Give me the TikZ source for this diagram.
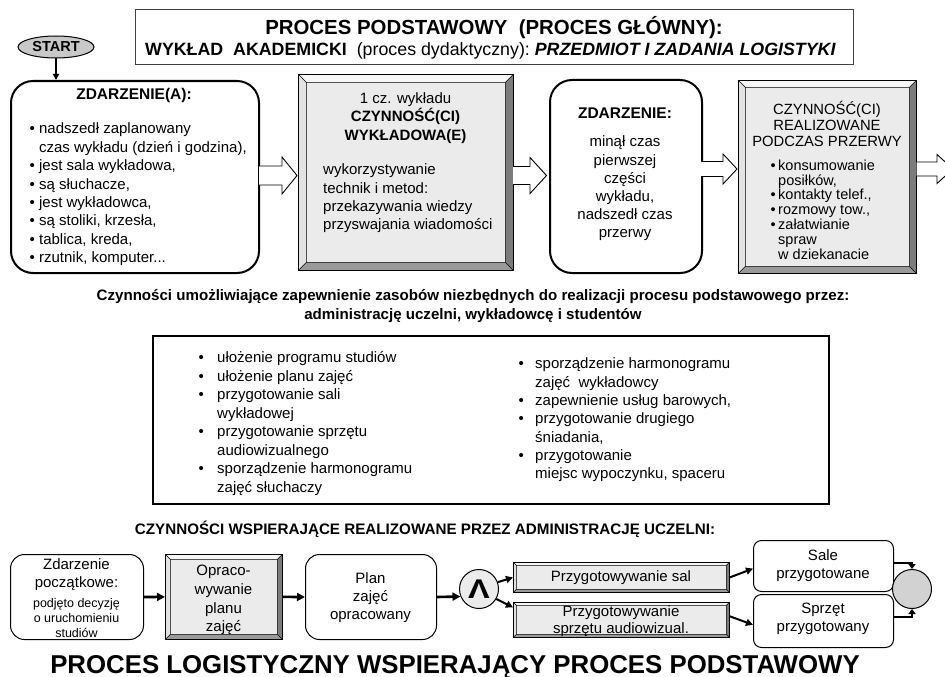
\documentclass[tikz,border=0pt]{standalone}
\usepackage{fontspec}
\setmainfont{Liberation Sans}
\usetikzlibrary{arrows.meta,calc,shapes.geometric}

\definecolor{face}{HTML}{EBEBEB}
\definecolor{bevlight}{HTML}{F7F7F7}
\definecolor{bevleft}{HTML}{E2E2E2}
\definecolor{bevdark}{HTML}{7C7C7C}
\definecolor{bevbottom}{HTML}{9A9A9A}
\definecolor{startgray}{HTML}{C8C8C8}
\definecolor{joingray}{HTML}{D2D2D2}

\newcommand{\fs}[2]{\fontsize{#1}{#2}\selectfont}

% raised (bevelled) frame drawn inside an activity box
\newcommand{\drawbevel}[1]{%
  \path (path picture bounding box.north west) coordinate (bvNW)
        (path picture bounding box.north east) coordinate (bvNE)
        (path picture bounding box.south west) coordinate (bvSW)
        (path picture bounding box.south east) coordinate (bvSE);
  \path ([xshift=#1pt,yshift=-#1pt]bvNW) coordinate (bvnw)
        ([xshift=-#1pt,yshift=-#1pt]bvNE) coordinate (bvne)
        ([xshift=#1pt,yshift=#1pt]bvSW) coordinate (bvsw)
        ([xshift=-#1pt,yshift=#1pt]bvSE) coordinate (bvse);
  \fill[bevlight] (bvNW) -- (bvNE) -- (bvne) -- (bvnw) -- cycle;
  \fill[bevleft] (bvNW) -- (bvnw) -- (bvsw) -- (bvSW) -- cycle;
  \fill[bevdark] (bvNE) -- (bvSE) -- (bvse) -- (bvne) -- cycle;
  \fill[bevbottom] (bvSW) -- (bvsw) -- (bvse) -- (bvSE) -- cycle;
  \draw[line width=0.6pt] (bvnw) rectangle (bvse)
     (bvNW) -- (bvnw) (bvNE) -- (bvne) (bvSW) -- (bvsw) (bvSE) -- (bvse);
}

% hollow block arrow: shaft start, head start, tip, centre line, half shaft, half head
\newcommand{\blockarr}[6]{%
  \draw[blockarrow] (#1,{#4-#5}) -- (#2,{#4-#5}) -- (#2,{#4-#6}) -- (#3,#4)
     -- (#2,{#4+#6}) -- (#2,{#4+#5}) -- (#1,{#4+#5});
}

\tikzset{
  txt/.style={inner sep=0pt, text=black},
  bevelbox/.style={draw=black, line width=0.8pt, fill=face, inner sep=0pt,
    anchor=north west, path picture={\drawbevel{#1}}},
  eventbox/.style={draw=black, line width=2pt, rounded corners=22pt, fill=white,
    inner sep=0pt, anchor=north west},
  eventsmall/.style={draw=black, line width=1pt, rounded corners=#1, fill=white,
    inner sep=0pt, anchor=north west},
  blockarrow/.style={draw=black, line width=0.9pt, fill=white},
  thinarr/.style={line width=1.6pt, -{Triangle[length=6pt,width=6pt]}},
  fatarr/.style={line width=2.6pt, -{Triangle[length=8pt,width=8pt]}},
  midarr/.style={line width=2pt, -{Triangle[length=7pt,width=7pt]}},
  joinarr/.style={line width=2pt, -{Triangle[length=5pt,width=7pt]}},
}

\begin{document}
\begin{tikzpicture}[x=1pt,y=-1pt]
\useasboundingbox (0,0) rectangle (945,677);
\fill[white] (0,0) rectangle (945,677);
\clip (0,0) rectangle (945,677);

% ---------- heading ----------
\node[draw=black!75, line width=1pt, minimum width=718pt, minimum height=55pt,
      inner sep=0pt, anchor=north west] (titlebox) at (135,9) {};
\node[txt, font=\fs{20.4}{24}\bfseries] (title1) at (494,27.5)
  {PROCES PODSTAWOWY\ \ (PROCES GŁÓWNY):};
\node[txt, font=\fs{17.8}{21}] (title2) at (490.5,50.5)
  {\textbf{WYKŁAD\ \ AKADEMICKI}\ \ (proces dydaktyczny):\ \textbf{\textit{PRZEDMIOT I ZADANIA LOGISTYKI}}};

% ---------- main process ----------
\node[ellipse, draw=black, line width=1pt, fill=startgray, minimum width=76pt,
      minimum height=22pt, inner sep=0pt, font=\fs{14.5}{17}\bfseries] (start) at (56,47) {START};

\node[eventbox, minimum width=248pt, minimum height=192pt] (zdA) at (10,80) {};
\draw[thinarr] (start.south) -- (start.south |- zdA.north);
\node[txt, font=\fs{15.5}{18}\bfseries] (zdAhead) at (134,95) {ZDARZENIE(A):};
\node[txt, anchor=west, align=left, font=\fs{15}{18.4}] (zdAlist) at (29.5,194.5)
  {• nadszedł zaplanowany\\\hphantom{• }czas wykładu (dzień i godzina),\\• jest sala wykładowa,\\• są słuchacze,\\• jest wykładowca,\\• są stoliki, krzesła,\\• tablica, kreda,\\• rzutnik, komputer...};

\node[bevelbox=8, minimum width=215pt, minimum height=196pt] (act1) at (298,74) {};
\node[txt, align=center, font=\fs{15}{18.5}] (act1head) at (405.5,118)
  {1 cz. wykładu\\\textbf{CZYNNOŚĆ(CI)}\\\textbf{WYKŁADOWA(E)}};
\node[txt, anchor=west, align=left, font=\fs{15}{18.3}] (act1body) at (323,198.5)
  {wykorzystywanie\\technik i metod:\\przekazywania wiedzy\\przyswajania wiadomości};

\node[eventbox, minimum width=152pt, minimum height=193pt] (zd2) at (549,79) {};
\node[txt, font=\fs{15.5}{18}\bfseries] (zd2head) at (625,113) {ZDARZENIE:};
\node[txt, align=center, font=\fs{15}{18.2}] (zd2body) at (625,188.5)
  {minął czas\\pierwszej\\części\\wykładu,\\nadszedł czas\\przerwy};

\node[bevelbox=7, minimum width=178pt, minimum height=193pt] (act2) at (738,80) {};
\node[txt, align=center, font=\fs{14.8}{16}] (act2head) at (827,124)
  {CZYNNOŚĆ(CI)\\REALIZOWANE\\PODCZAS PRZERWY};
\node[txt, anchor=west, align=left, font=\fs{14.5}{14.8}] (act2list) at (770.5,209.5)
  {•\,konsumowanie\\\hphantom{•\,}posiłków,\\•\,kontakty telef.,\\•\,rozmowy tow.,\\•\,załatwianie\\\hphantom{•\,}spraw\\\hphantom{•\,}w dziekanacie};

\blockarr{259}{282}{297}{175.5}{9.5}{18.5}
\blockarr{513}{530}{546.5}{175.5}{9}{18}
\blockarr{701}{723}{737}{169}{7.5}{15}
\blockarr{916.5}{937}{953}{169}{7}{14.5}

% ---------- resources ----------
\node[txt, align=center, font=\fs{15.1}{19}\bfseries] (rescap) at (473,306)
  {Czynności umożliwiające zapewnienie zasobów niezbędnych do realizacji procesu podstawowego przez:\\administrację uczelni, wykładowcę i studentów};

\node[draw=black, line width=2pt, minimum width=676pt, minimum height=168pt,
      inner sep=0pt, anchor=north west] (resbox) at (152,335) {};
\node[txt, anchor=west, align=left, font=\fs{15}{18.57}] (resleft) at (198.5,423.5)
  {\makebox[18.5pt][l]{•}ułożenie programu studiów\\\makebox[18.5pt][l]{•}ułożenie planu zajęć\\\makebox[18.5pt][l]{•}przygotowanie sali\\\hspace*{18.5pt}wykładowej\\\makebox[18.5pt][l]{•}przygotowanie sprzętu\\\hspace*{18.5pt}audiowizualnego\\\makebox[18.5pt][l]{•}sporządzenie harmonogramu\\\hspace*{18.5pt}zajęć słuchaczy};
\node[txt, anchor=west, align=left, font=\fs{15}{18.33}] (resright) at (518.5,420)
  {\makebox[16.5pt][l]{•}sporządzenie harmonogramu\\\hspace*{16.5pt}zajęć\ \ wykładowcy\\\makebox[16.5pt][l]{•}zapewnienie usług barowych,\\\makebox[16.5pt][l]{•}przygotowanie drugiego\\\hspace*{16.5pt}śniadania,\\\makebox[16.5pt][l]{•}przygotowanie\\\hspace*{16.5pt}miejsc wypoczynku, spaceru};

% ---------- supporting logistics process ----------
\node[txt, font=\fs{15.2}{18}\bfseries] (supcap) at (425,529)
  {CZYNNOŚCI WSPIERAJĄCE REALIZOWANE PRZEZ ADMINISTRACJĘ UCZELNI:};

\node[eventsmall=14pt, minimum width=133pt, minimum height=85pt] (zdP) at (10,554) {};
\node[txt, align=center, font=\fs{15}{18}] (zdPa) at (76.5,575) {Zdarzenie\\początkowe:};
\node[txt, align=center, font=\fs{12.5}{15}] (zdPb) at (76.5,618) {podjęto decyzję\\o uruchomieniu\\studiów};

\node[bevelbox=5, minimum width=117pt, minimum height=85pt] (opr) at (165,554) {};
\node[txt, align=center, font=\fs{15}{18.7}] (oprt) at (223.5,600) {Opraco-\\wywanie\\planu\\zajęć};

\node[eventsmall=14pt, minimum width=131pt, minimum height=85pt] (plan) at (305,554) {};
\node[txt, align=center, font=\fs{15}{18}] (plant) at (370.5,598) {Plan\\zajęć\\opracowany};

\node[circle, draw=black, line width=1pt, fill=face, minimum size=39pt, inner sep=0pt,
      font=\fs{27}{27}\bfseries] (andg) at (479,589) {\scalebox{1.2}[1]{Λ}};

\node[bevelbox=3, minimum width=216pt, minimum height=30pt] (psal) at (513,562) {};
\node[txt, font=\fs{15}{18}] (psalt) at (621,578) {Przygotowywanie sal};
\node[bevelbox=3, minimum width=216pt, minimum height=35pt] (psprz) at (513,602) {};
\node[txt, align=center, font=\fs{15}{17}] (psprzt) at (621,621) {Przygotowywanie\\sprzętu audiowizual.};

\node[eventsmall=8pt, minimum width=140pt, minimum height=51pt] (sale) at (753,540) {};
\node[txt, align=center, font=\fs{15}{18}] (salet) at (823,566) {Sale\\przygotowane};
\node[eventsmall=8pt, minimum width=140pt, minimum height=53pt] (sprz) at (753,594) {};
\node[txt, align=center, font=\fs{15}{18}] (sprzt) at (823,619) {Sprzęt\\przygotowany};

\node[circle, draw=black, line width=1pt, fill=joingray, minimum size=39pt, inner sep=0pt] (join) at (912,589) {};

\draw[fatarr] (zdP.east) -- (opr.west);
\draw[fatarr] (opr.east) -- (plan.west);
\draw[fatarr] (plan.east) -- (andg.202);
\draw[midarr] (andg.20) -- (psal.west);
\draw[midarr] (andg.-30) -- ($(psprz.north west)!0.15!(psprz.south west)$);
\draw[midarr] (psal.east) -- ($(sale.north west)!0.55!(sale.south west)$);
\draw[midarr] ($(psprz.north east)!0.4!(psprz.south east)$) -- ($(sprz.north west)!0.57!(sprz.south west)$);
\draw[joinarr] ($(sale.north east)!0.45!(sale.south east)$) -| (join.north);
\draw[joinarr] ($(sprz.north east)!0.43!(sprz.south east)$) -| (join.south);

\node[txt, font=\fs{25.8}{30}\bfseries] (logtitle) at (455,667)
  {PROCES LOGISTYCZNY WSPIERAJĄCY PROCES PODSTAWOWY};
\end{tikzpicture}
\end{document}
